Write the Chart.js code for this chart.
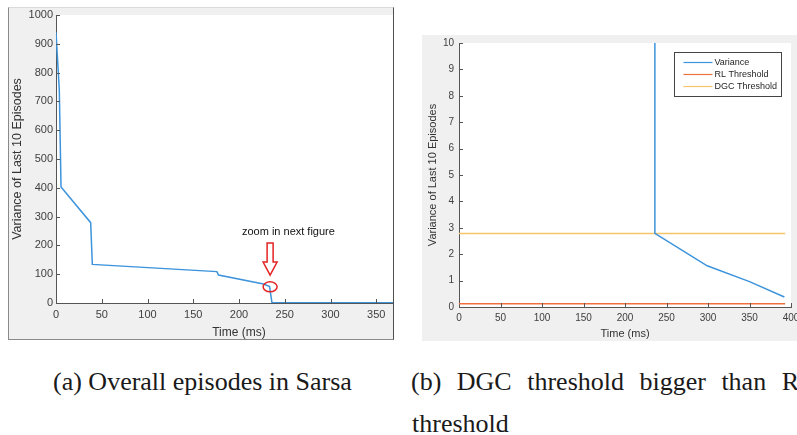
<!DOCTYPE html>
<html><head><meta charset="utf-8">
<script src="https://cdn.jsdelivr.net/npm/chart.js@4.4.0/dist/chart.umd.min.js"></script>
<style>
html,body{margin:0;padding:0;background:#fff;width:797px;height:435px;overflow:hidden;position:relative;}
#pa{position:absolute;left:8px;top:7px;width:384px;height:331px;background:#f0f0f0;border:1px solid #8a8a8a;border-top-color:#dadada;border-right-color:#505050;overflow:hidden;}
#pb{position:absolute;left:422px;top:35px;width:375px;height:306px;background:#f0f0f0;overflow:hidden;}
canvas{position:absolute;left:0;top:0;}
.cap{position:absolute;font-family:'Liberation Serif',serif;font-size:26px;line-height:26px;color:#1a1a1a;white-space:nowrap;}
</style></head>
<body>
<div id="pa"><canvas id="ca" width="415" height="331"></canvas></div>
<div id="pb"><canvas id="cb" width="375" height="306"></canvas></div>
<div class="cap" style="left:53px;top:369px;">(a) Overall episodes in Sarsa</div>
<div class="cap" style="left:411px;top:369px;word-spacing:9px;">(b) DGC threshold bigger than RL</div>
<div class="cap" style="left:412px;top:411px;">threshold</div>
<script>
// ---- Panel (a): overall episodes ----
const timeA = [0, 3.6, 5.5, 37.9, 39.7, 175.8, 177.6, 226.8, 233.4, 236, 400];
const varA  = [940, 740, 403, 279, 134, 109, 97, 66, 57, 1, 1];
const ticksX = [0, 50, 100, 150, 200, 250, 300, 350, 400];
const ticksYA = [0, 100, 200, 300, 400, 500, 600, 700, 800, 900, 1000];
const annoText = {x: 254, y: 246, text: 'zoom in next figure'};
const annoArrow = {x: 234, yTop: 208, yTip: 97};
const annoCircle = {x: 234, y: 56};

// ---- Panel (b): zoomed view ----
const timeB = [236, 236, 299, 350, 392];
const varB  = [40, 2.79, 1.56, 0.96, 0.38];
const thrTime = [0, 393];
const rlThr = [0.12, 0.12];
const dgcThr = [2.78, 2.78];
const ticksYB = [0, 1, 2, 3, 4, 5, 6, 7, 8, 9, 10];
const seriesNames = ['Variance', 'RL Threshold', 'DGC Threshold'];

const BLUE = '#3d94dc', ORANGE = '#ef6f3f', YELLOW = '#f6c46a';
const AXC = '#555555', TXT = '#404040';
const FAM = '"Liberation Sans", Arial, sans-serif';

const pts = (xs, ys) => xs.map((x, i) => ({x, y: ys[i]}));

const whiteArea = {
  id: 'whiteArea',
  beforeDraw(chart) {
    const {ctx, chartArea: a} = chart;
    ctx.save(); ctx.fillStyle = '#ffffff';
    ctx.fillRect(a.left, a.top, a.right - a.left, a.bottom - a.top);
    ctx.restore();
  }
};

const inTicks = {
  id: 'inTicks',
  afterDraw(chart) {
    const {ctx, chartArea: a, scales: {x, y}} = chart;
    ctx.save();
    ctx.strokeStyle = AXC; ctx.lineWidth = 1;
    ctx.beginPath();
    x.ticks.forEach(t => {
      const px = Math.round(x.getPixelForValue(t.value)) + 0.5;
      if (px > a.left + 1 && px < a.right + 2) { ctx.moveTo(px, a.bottom); ctx.lineTo(px, a.bottom - 4); }
    });
    y.ticks.forEach(t => {
      const py = Math.round(y.getPixelForValue(t.value)) + 0.5;
      if (py < a.bottom - 1) { ctx.moveTo(a.left, py); ctx.lineTo(a.left + 4, py); }
    });
    ctx.stroke();
    ctx.restore();
  }
};

function fixX(h) { return s => { s.height = h; s.paddingLeft = 0; s.paddingRight = 0; }; }
function fixY(w) { return s => { s.width = w; s.paddingTop = 0; s.paddingBottom = 0; }; }

function axes(o) {
  return {
    x: {
      type: 'linear', min: 0, max: 400,
      afterBuildTicks: s => { s.ticks = ticksX.map(v => ({value: v})); },
      ticks: {color: TXT, font: {family: FAM, size: o.tick}, padding: o.xpad, maxRotation: 0, autoSkip: false, callback: v => String(v)},
      grid: {display: false, drawTicks: false},
      border: {display: true, color: AXC, width: 1},
      title: {display: true, text: 'Time (ms)', color: '#333', font: {family: FAM, size: o.title, lineHeight: 1.1}, padding: {top: 0, bottom: o.xtb}},
      afterFit: fixX(o.xh)
    },
    y: {
      type: 'linear', min: 0, max: o.ymax,
      afterBuildTicks: s => { s.ticks = o.yt.map(v => ({value: v})); },
      ticks: {color: TXT, font: {family: FAM, size: o.tick}, padding: o.ypad, autoSkip: false, callback: v => String(v)},
      grid: {display: false, drawTicks: false},
      border: {display: true, color: AXC, width: 1},
      title: {display: true, text: 'Variance of Last 10 Episodes', color: '#333', font: {family: FAM, size: o.ytitle, lineHeight: 1.2}, padding: {top: o.ytp, bottom: 0}},
      afterFit: fixY(o.yw)
    }
  };
}

const annoPlugin = {
  id: 'anno',
  afterDatasetsDraw(chart) {
    const {ctx, scales: {x, y}} = chart;
    ctx.save();
    ctx.fillStyle = '#111';
    ctx.font = '11px ' + FAM;
    ctx.textAlign = 'center'; ctx.textBaseline = 'middle';
    ctx.fillText(annoText.text, x.getPixelForValue(annoText.x), y.getPixelForValue(annoText.y));
    const cx = x.getPixelForValue(annoArrow.x);
    const y0 = y.getPixelForValue(annoArrow.yTop), y1 = y.getPixelForValue(annoArrow.yTip);
    ctx.strokeStyle = '#e52222'; ctx.lineWidth = 1.5;
    ctx.beginPath();
    ctx.moveTo(cx - 3, y0); ctx.lineTo(cx + 3, y0); ctx.lineTo(cx + 3, y1 - 13);
    ctx.lineTo(cx + 7, y1 - 13); ctx.lineTo(cx, y1); ctx.lineTo(cx - 7, y1 - 13);
    ctx.lineTo(cx - 3, y1 - 13); ctx.closePath(); ctx.stroke();
    ctx.beginPath();
    ctx.ellipse(x.getPixelForValue(annoCircle.x), y.getPixelForValue(annoCircle.y), 7, 5, 0, 0, Math.PI * 2);
    ctx.stroke();
    ctx.restore();
  }
};

const legendPlugin = {
  id: 'boxLegend',
  afterDraw(chart) {
    const {ctx, chartArea: a} = chart;
    const w = 107, h = 44, bx = Math.round(a.right - 10 - w) + 0.5, by = Math.round(a.top + 9) + 0.5;
    ctx.save();
    ctx.fillStyle = '#fff'; ctx.fillRect(bx, by, w, h);
    ctx.strokeStyle = '#444'; ctx.lineWidth = 1; ctx.strokeRect(bx, by, w, h);
    ctx.font = '9px ' + FAM; ctx.textBaseline = 'middle'; ctx.textAlign = 'left';
    chart.data.datasets.forEach((d, i) => {
      const ry = by + 10 + i * 12;
      ctx.strokeStyle = d.borderColor; ctx.lineWidth = 1.2;
      ctx.beginPath(); ctx.moveTo(bx + 9, ry); ctx.lineTo(bx + 38, ry); ctx.stroke();
      ctx.fillStyle = '#262626'; ctx.fillText(d.label, bx + 40, ry);
    });
    ctx.restore();
  }
};

const lineDs = (label, data, color) => ({label, data, borderColor: color, backgroundColor: color, borderWidth: 1.5, pointRadius: 0, tension: 0, fill: false});

new Chart(document.getElementById('ca'), {
  type: 'line',
  data: {datasets: [lineDs('Variance', pts(timeA, varA), BLUE)]},
  options: {
    responsive: false, animation: false, devicePixelRatio: 1,
    layout: {padding: {top: 7, right: 2, left: 0, bottom: 0}},
    plugins: {legend: {display: false}, tooltip: {enabled: false}},
    scales: axes({tick: 11, title: 12, ytitle: 12.5, xpad: 5, ypad: 3, xh: 36, yw: 47, ymax: 1000, yt: ticksYA, xtb: 0, ytp: 1})
  },
  plugins: [whiteArea, inTicks, annoPlugin]
});

new Chart(document.getElementById('cb'), {
  type: 'line',
  data: {datasets: [
    lineDs(seriesNames[0], pts(timeB, varB), BLUE),
    lineDs(seriesNames[1], pts(thrTime, rlThr), ORANGE),
    lineDs(seriesNames[2], pts(thrTime, dgcThr), YELLOW)
  ]},
  options: {
    responsive: false, animation: false, devicePixelRatio: 1,
    layout: {padding: {top: 8, right: 6, left: 0, bottom: 0}},
    plugins: {legend: {display: false}, tooltip: {enabled: false}},
    scales: axes({tick: 10, title: 11, ytitle: 11, xpad: 5, ypad: 5, xh: 34, yw: 37, ymax: 10, yt: ticksYB, xtb: 1, ytp: 4})
  },
  plugins: [whiteArea, inTicks, legendPlugin]
});
</script>
</body></html>
